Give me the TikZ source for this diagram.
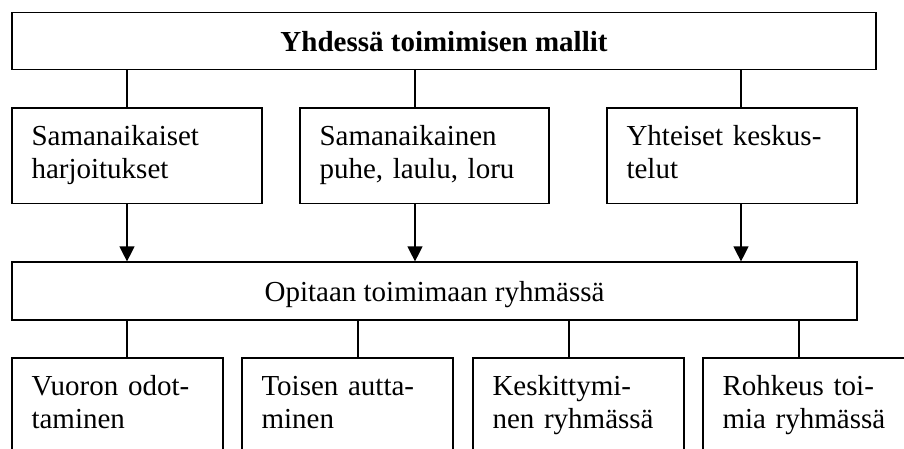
\documentclass[tikz,border=0pt]{standalone}
\usepackage{fontspec}
\setmainfont{Liberation Serif}
\usetikzlibrary{arrows.meta}
\begin{document}
\begin{tikzpicture}[x=1pt,y=-1pt,
  every node/.style={font=\fontsize{29}{33}\selectfont},
  box/.style={draw, line width=1.2pt, inner sep=0pt},
  onebox/.style={box, text height=20pt, text depth=0pt},
  twobox/.style={box, inner xsep=19.5pt, align=left, text width=#1, minimum height=95.5pt},
  link/.style={line width=1.2pt},
  arrowlink/.style={line width=1.2pt, -{Triangle[length=15pt,width=15pt]}}]
\useasboundingbox (0,0) rectangle (904,448);
\clip (0,0) rectangle (904,448);
% top
\node[onebox, minimum width=864pt, minimum height=57pt] (top) at (444,41) {\bfseries Yhdessä toimimisen mallit};
% row 2
\node[twobox=211pt] (a1) at (137,155.75) {\strut Samanaikaiset\\harjoitukset\strut};
\node[twobox=210pt] (a2) at (424.5,155.75) {\strut Samanaikainen\\puhe, laulu, loru\strut};
\node[twobox=211pt] (a3) at (732,155.75) {\strut Yhteiset keskus-\\telut\strut};
% middle
\node[onebox, minimum width=845pt, minimum height=58pt] (mid) at (434.5,291) {Opitaan toimimaan ryhmässä};
% row 4
\node[twobox=172pt] (d1) at (117.5,405.75) {\strut Vuoron odot-\\taminen\strut};
\node[twobox=172pt] (d2) at (347.5,405.75) {\strut Toisen autta-\\minen\strut};
\node[twobox=172pt] (d3) at (578.5,405.75) {\strut Keskittymi-\\nen ryhmässä\strut};
\node[twobox=172pt] (d4) at (808.5,405.75) {\strut Rohkeus toi-\\mia ryhmässä\strut};
% connector x positions
\coordinate (x1) at (127,0);
\coordinate (x2) at (415,0);
\coordinate (x3) at (741,0);
\coordinate (y1) at (127,0);
\coordinate (y2) at (358,0);
\coordinate (y3) at (569,0);
\coordinate (y4) at (799,0);
% connectors
\draw[link] (top.south -| x1) -- (a1.north -| x1);
\draw[link] (top.south -| x2) -- (a2.north -| x2);
\draw[link] (top.south -| x3) -- (a3.north -| x3);
\draw[arrowlink] (a1.south -| x1) -- (mid.north -| x1);
\draw[arrowlink] (a2.south -| x2) -- (mid.north -| x2);
\draw[arrowlink] (a3.south -| x3) -- (mid.north -| x3);
\draw[link] (mid.south -| y1) -- (d1.north -| y1);
\draw[link] (mid.south -| y2) -- (d2.north -| y2);
\draw[link] (mid.south -| y3) -- (d3.north -| y3);
\draw[link] (mid.south -| y4) -- (d4.north -| y4);
\end{tikzpicture}
\end{document}
